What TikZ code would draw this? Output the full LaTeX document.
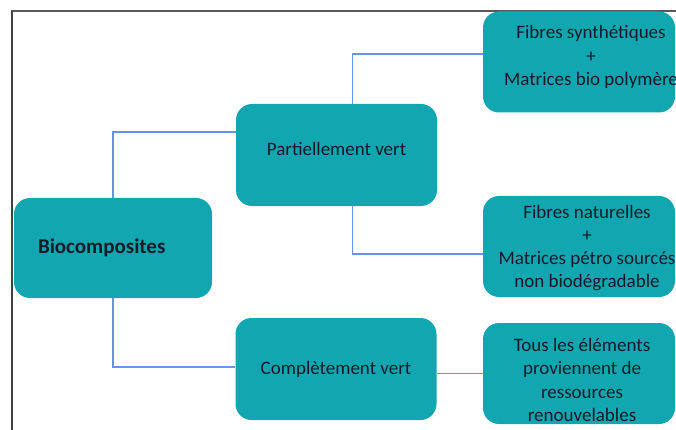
\documentclass[tikz,border=0pt]{standalone}
\usepackage{fontspec}
\setmainfont{Carlito}
\usepackage{xcolor}
\definecolor{boxteal}{RGB}{18,166,177}
\definecolor{linkblue}{RGB}{104,145,232}
\definecolor{inkdark}{RGB}{22,26,40}
\tikzstyle{root} = [rectangle, rounded corners=16pt, minimum width=198pt, minimum height=100pt, text width=150pt, inner xsep=24pt, align=left, fill=boxteal, text=inkdark, font=\fontsize{21}{25}\selectfont\bfseries]
\tikzstyle{branch} = [rectangle, rounded corners=16pt, minimum width=201pt, minimum height=102pt, text centered, fill=boxteal, text=inkdark, font=\fontsize{19}{23}\selectfont]
\tikzstyle{leaf} = [rectangle, rounded corners=16pt, minimum width=192pt, minimum height=101pt, inner sep=0pt, fill=boxteal]
\tikzstyle{leaftext} = [align=center, text=inkdark, inner sep=0pt, font=\fontsize{19}{23.2}\selectfont]
\tikzstyle{link} = [draw=linkblue, line width=1.5pt]

\begin{document}
\begin{tikzpicture}[x=1pt, y=-1pt]
		\useasboundingbox (0,0) rectangle (676,430);
		\fill [white] (0,0) rectangle (676,430);
		\draw [black!65, line width=1.2pt] (11,11) -- (676,11);
		\draw [black!75, line width=2pt] (12,11) -- (12,430);

		\node (bio) [root] at (113,248) {Biocomposites};
		\node (part) [branch, text depth=12pt] at (336.5,155) {Partiellement vert};
		\node (comp) [branch] at (336,369) {Complètement vert};
		\node (sub1) [leaf] at (579,62) {};
		\node (sub2) [leaf] at (579,246.5) {};
		\node (sub3) [leaf] at (579,373.5) {};
		\node (txt1) [leaftext] at (591,57) {Fibres synthétiques\\+\\Matrices bio polymère};
		\node (txt2) [leaftext] at (587,248) {Fibres naturelles\\+\\Matrices pétro sourcés\\non biodégradable};
		\node (txt3) [leaftext] at (582,380) {Tous les éléments\\proviennent de\\ressources\\renouvelables};

		\draw [link] (bio.north) |- ([yshift=23pt]part.west);
		\draw [link] (bio.south) |- ([yshift=2pt]comp.west);
		\draw [link] ([xshift=16pt]part.north) |- ([yshift=8pt]sub1.west);
		\draw [link] ([xshift=16pt]part.south) |- ([yshift=-7.5pt]sub2.west);
		\draw [link] (sub3.west -| comp.east) -- (sub3.west);
	\end{tikzpicture}
\end{document}
